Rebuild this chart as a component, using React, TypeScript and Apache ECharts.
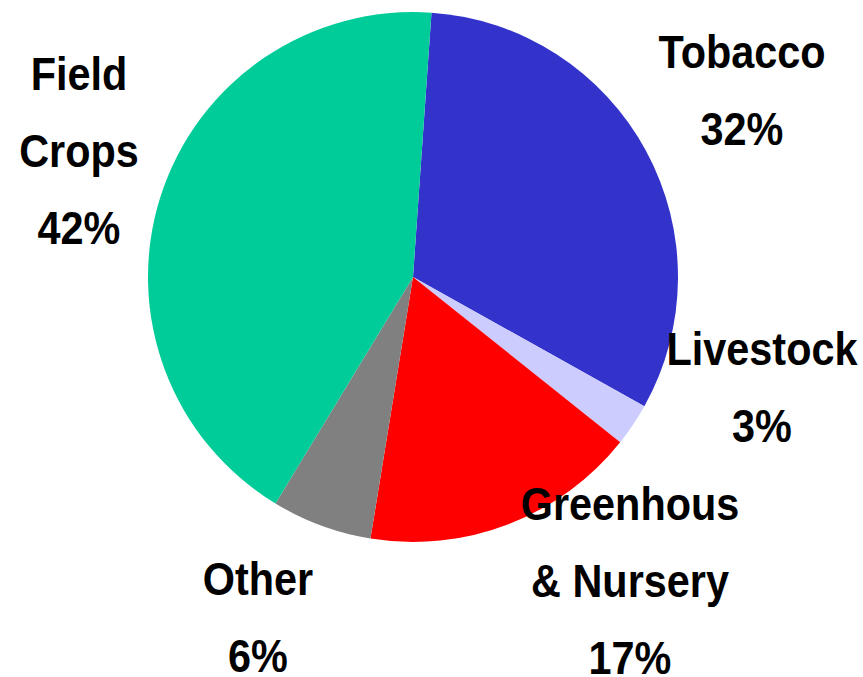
import React, { useEffect, useRef } from "react";
import * as echarts from "echarts";

const categories = ["Tobacco", "Livestock", "Greenhous\n& Nursery", "Other", "Field\nCrops"];
const values = [31.9, 2.6, 16.8, 6.1, 42.3];
const colors = ["#3333CC", "#CCCCFF", "#FF0000", "#808080", "#00CC99"];
// label block centres (layout only)
const labelPos: [number, number][] = [
  [742, 90],
  [762, 387],
  [630, 581],
  [258, 617],
  [79, 151],
];

export default function App() {
  const ref = useRef<HTMLDivElement>(null);
  useEffect(() => {
    if (!ref.current) return;
    const chart = echarts.init(ref.current, null, { renderer: "svg" });
    const total = values.reduce((a, b) => a + b, 0);
    const lineGap = 77;
    const texts: any[] = [];
    categories.forEach((c, i) => {
      const lines = [...c.split("\n"), `${Math.round((values[i] / total) * 100)}%`];
      const n = lines.length;
      lines.forEach((t, j) => {
        texts.push({
          type: "text",
          x: labelPos[i][0],
          y: labelPos[i][1] + (j - (n - 1) / 2) * lineGap,
          scaleX: 0.9,
          z: 100,
          zlevel: 0,
          style: {
            text: t,
            fill: "#000000",
            font: "bold 46px 'Liberation Sans', Arial, sans-serif",
            textAlign: "center",
            textVerticalAlign: "middle",
          },
          silent: true,
        });
      });
    });
    chart.setOption({
      animation: false,
      backgroundColor: "#ffffff",
      graphic: { elements: texts },
      series: [
        {
          type: "pie",
          z: 1,
          center: [413, 277],
          radius: 265,
          startAngle: 86,
          clockwise: true,
          data: categories.map((c, i) => ({
            name: c,
            value: values[i],
            itemStyle: { color: colors[i] },
          })),
          itemStyle: { borderWidth: 0 },
          label: { show: false },
          labelLine: { show: false },
          emphasis: { disabled: true },
        },
      ],
    });
    return () => chart.dispose();
  }, []);
  return (
    <div
      ref={ref}
      style={{ position: "fixed", left: 0, top: 0, width: 863, height: 677 }}
    />
  );
}
